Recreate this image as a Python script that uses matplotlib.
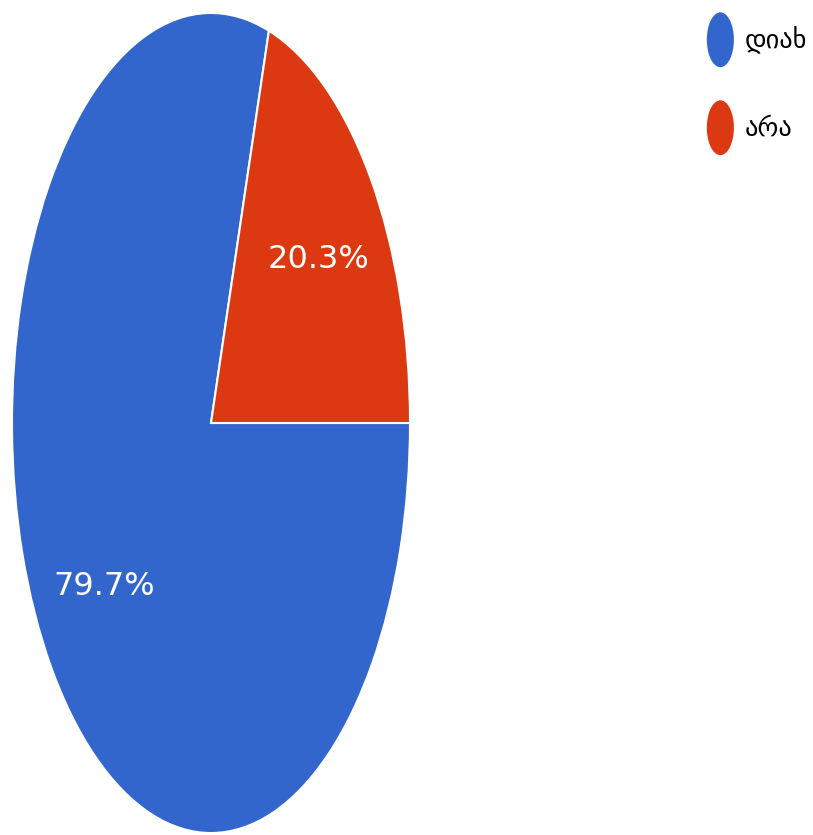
import matplotlib
matplotlib.use("Agg")
import matplotlib.pyplot as plt
from matplotlib.patches import Ellipse, Wedge
from matplotlib.legend_handler import HandlerPatch

labels = ["დიახ", "არა"]
shares = [79.7, 20.3]
colors = ["#3366CC", "#DC3912"]

W, H = 813, 835
fig = plt.figure(figsize=(W / 100, H / 100), dpi=100)

# pie is stretched vertically in the reference, so the axes is not square
ax = fig.add_axes([12 / W, 2 / H, 398 / W, 820 / H])
wedges, texts, autotexts = ax.pie(
    shares,
    colors=colors,
    startangle=0,
    counterclock=False,
    autopct="%.1f%%",
    pctdistance=0.67,
    wedgeprops={"edgecolor": "white", "linewidth": 1.5},
    textprops={"color": "white", "fontsize": 23},
)
ax.set_aspect("auto")
ax.set_xlim(-1, 1)
ax.set_ylim(-1, 1)


class HandlerEllipse(HandlerPatch):
    def create_artists(self, legend, orig_handle, xdescent, ydescent,
                       width, height, fontsize, trans):
        e = Ellipse((width / 2 - xdescent, height / 2 - ydescent),
                    width=19.5, height=39.5,
                    facecolor=orig_handle.get_facecolor(), edgecolor="none",
                    transform=trans)
        return [e]


fs = 19
fig.legend(
    wedges, labels,
    handler_map={Wedge: HandlerEllipse()},
    loc="upper left",
    bbox_to_anchor=(688 / W, 1 - 0 / H),
    frameon=False,
    handlelength=20 / fs,
    handleheight=40 / fs,
    handletextpad=0.4,
    labelspacing=1.72,
    borderpad=0.2,
    prop={"family": ["DejaVu Sans"], "size": fs},
)

fig.savefig("out.png", dpi=100)
